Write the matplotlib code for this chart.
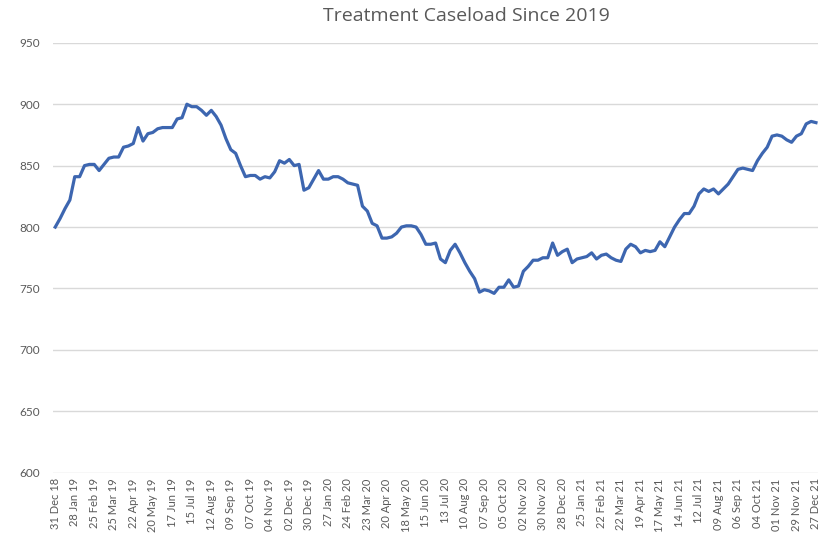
import matplotlib
matplotlib.use('Agg')
import matplotlib.pyplot as plt

# weekly treatment caseload, 31 Dec 18 to 27 Dec 21
caseload = [800, 807, 815, 822, 841, 841, 850, 851, 851, 846,
            851, 856, 857, 857, 865, 866, 868, 881, 870, 876,
            877, 880, 881, 881, 881, 888, 889, 900, 898, 898,
            895, 891, 895, 890, 883, 872, 863, 860, 850, 841,
            842, 842, 839, 841, 840, 845, 854, 852, 855, 850,
            851, 830, 832, 839, 846, 839, 839, 841, 841, 839,
            836, 835, 834, 817, 813, 803, 801, 791, 791, 792,
            795, 800, 801, 801, 800, 794, 786, 786, 787, 774,
            771, 781, 786, 779, 771, 764, 758, 747, 749, 748,
            746, 751, 751, 757, 751, 752, 764, 768, 773, 773,
            775, 775, 787, 777, 780, 782, 771, 774, 775, 776,
            779, 774, 777, 778, 775, 773, 772, 782, 786, 784,
            779, 781, 780, 781, 788, 784, 792, 800, 806, 811,
            811, 817, 827, 831, 829, 831, 827, 831, 835, 841,
            847, 848, 847, 846, 854, 860, 865, 874, 875, 874,
            871, 869, 874, 876, 884, 886, 885]

# tick labels every 4 weeks
tick_labels = ['31 Dec 18', '28 Jan 19', '25 Feb 19', '25 Mar 19', '22 Apr 19',
               '20 May 19', '17 Jun 19', '15 Jul 19', '12 Aug 19', '09 Sep 19',
               '07 Oct 19', '04 Nov 19', '02 Dec 19', '30 Dec 19', '27 Jan 20',
               '24 Feb 20', '23 Mar 20', '20 Apr 20', '18 May 20', '15 Jun 20',
               '13 Jul 20', '10 Aug 20', '07 Sep 20', '05 Oct 20', '02 Nov 20',
               '30 Nov 20', '28 Dec 20', '25 Jan 21', '22 Feb 21', '22 Mar 21',
               '19 Apr 21', '17 May 21', '14 Jun 21', '12 Jul 21', '09 Aug 21',
               '06 Sep 21', '04 Oct 21', '01 Nov 21', '29 Nov 21', '27 Dec 21']

plt.rcParams['font.family'] = ['Lato', 'DejaVu Sans']
grey = '#595959'

fig = plt.figure(figsize=(8.25, 5.35), dpi=100)
ax = fig.add_axes([0.064, 0.1164, 0.928, 0.8036])

weeks = range(len(caseload))
ax.plot(weeks, caseload, color='#3d66b0', linewidth=2.3, solid_joinstyle='round')

ax.set_ylim(600, 950)
ax.set_yticks(range(600, 951, 50))
ax.set_xlim(-0.5, len(caseload) - 0.5)
ax.set_xticks(range(0, len(caseload), 4))
ax.set_xticklabels(tick_labels, rotation=90)

ax.grid(axis='y', color='#d9d9d9', linewidth=1.0)
ax.set_axisbelow(True)
for s in ax.spines.values():
    s.set_visible(False)
ax.tick_params(axis='both', length=0, colors=grey)
ax.tick_params(axis='x', labelsize=8, pad=4)
ax.tick_params(axis='y', labelsize=8.5, pad=9)

fig.text(0.565, 0.971, 'Treatment Caseload Since 2019', ha='center', va='center',
         fontsize=14, color=grey, family=['Open Sans', 'DejaVu Sans'])

fig.savefig('out.png', dpi=100)
